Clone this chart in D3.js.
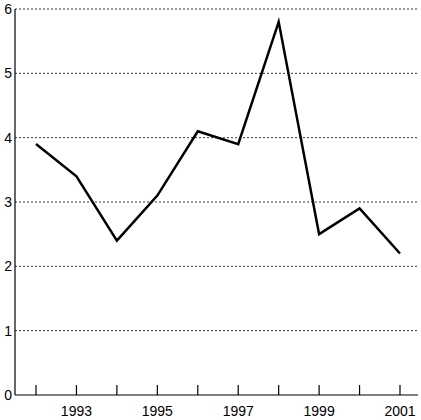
<!DOCTYPE html><html><head><script src="https://cdn.jsdelivr.net/npm/d3@7"></script>
<style>body{margin:0;background:#fff}text{font-family:"Liberation Sans",Arial,sans-serif;font-size:14px}</style></head><body>
<svg id="c" width="421" height="420"></svg>
<script>
const years=[1992,1993,1994,1995,1996,1997,1998,1999,2000,2001];
const values=[3.9,3.4,2.4,3.1,4.1,3.9,5.8,2.5,2.9,2.2];
const yTicks=[0,1,2,3,4,5,6];
const xLabels=[1993,1995,1997,1999,2001];
const svg=d3.select("#c");
const x=d3.scaleLinear().domain([1992,2001]).range([36,400]);
const y=d3.scaleLinear().domain([0,6]).range([395,9]);
svg.selectAll(".g").data(yTicks.filter(d=>d>0)).join("line")
 .attr("x1",15).attr("x2",418).attr("y1",d=>y(d)).attr("y2",d=>y(d))
 .attr("stroke","#000").attr("stroke-width",0.8).attr("stroke-dasharray","2,2");
svg.selectAll(".yl").data(yTicks).join("text").attr("x",12).attr("y",d=>y(d)+5)
 .attr("text-anchor","end").text(d=>d);
svg.append("line").attr("x1",15).attr("x2",15).attr("y1",y(6)).attr("y2",395).attr("stroke","#000").attr("stroke-width",1.2);
svg.append("line").attr("x1",15).attr("x2",418).attr("y1",395).attr("y2",395).attr("stroke","#000").attr("stroke-width",1.2);
svg.selectAll(".xt").data(years).join("line").attr("x1",d=>x(d)).attr("x2",d=>x(d))
 .attr("y1",385).attr("y2",395).attr("stroke","#000").attr("stroke-width",1.2);
svg.selectAll(".xl").data(xLabels).join("text").attr("x",d=>x(d)).attr("y",416)
 .attr("text-anchor","middle").text(d=>d);
svg.append("path").datum(years.map((d,i)=>[d,values[i]]))
 .attr("d",d3.line().x(d=>x(d[0])).y(d=>y(d[1])))
 .attr("fill","none").attr("stroke","#000").attr("stroke-width",2.5);
</script></body></html>
